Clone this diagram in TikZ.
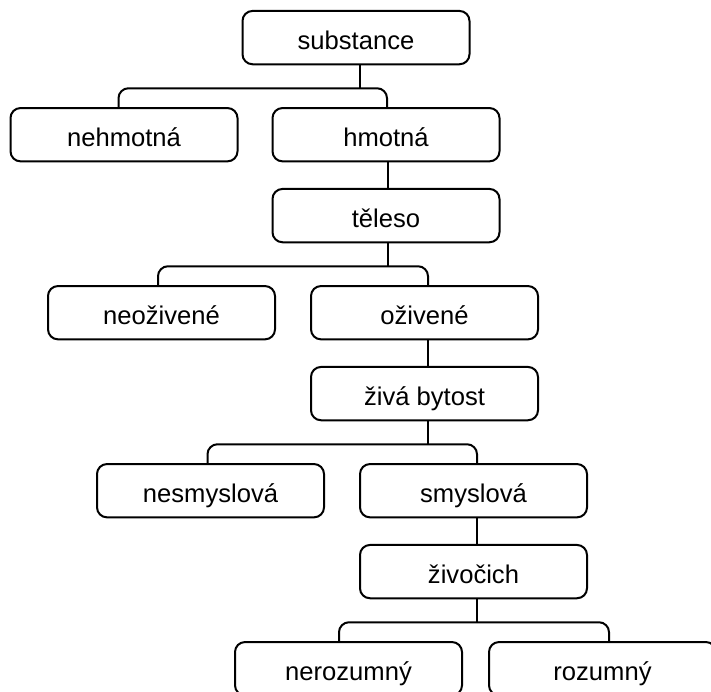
\documentclass[tikz,border=0pt]{standalone}
\usepackage{fontspec}
\setmainfont{Liberation Sans}
\usetikzlibrary{positioning}

\begin{document}
\begin{tikzpicture}[
concept/.style={draw, rounded corners=5pt, line width=1pt, minimum width=113.5pt, minimum height=26.65pt, inner sep=0pt, outer sep=0pt, text height=14.7pt, text depth=2.6pt, font=\fontsize{12.8}{15}\selectfont},
link/.style={line width=1pt},
fork/.style={line width=1pt, rounded corners=5pt},
node distance=21.9pt and 18pt
]
% frame of the picture
\useasboundingbox (0,0) rectangle (355.5pt,-345.5pt);
\clip (0,0) rectangle (355.5pt,-345.5pt);

%Nodes
\node[concept]   (subst)   at (178pt,-18.8pt)              {substance};
\node[concept]   (hmot)    [below=of subst, xshift=15pt]   {hmotná};
\node[concept]   (nehm)    [left=17.5pt of hmot]           {nehmotná};
\node[concept]   (tele)    [below=13.8pt of hmot]          {těleso};

\node[concept]   (oziv)    [below=of tele, xshift=19.25pt] {oživené};
\node[concept]   (neoz)    [left=of oziv]                  {neoživené};
\node[concept]   (ziva)    [below=13.8pt of oziv]          {živá bytost};

\node[concept]   (smys)    [below=of ziva, xshift=24.5pt]  {smyslová};
\node[concept]   (nesm)    [left=of smys]                  {nesmyslová};
\node[concept]   (zivo)    [below=13.8pt of smys]          {živočich};

\node[concept]   (roz)     [below=of zivo, xshift=64.5pt]  {rozumný};
\node[concept]   (neroz)   [left=13.5pt of roz]            {nerozumný};

%Lines
\draw[link] ([xshift=2pt]subst.south) -- ++(0,-12pt) coordinate (f1);
\draw[fork] ([xshift=-2.75pt]nehm.north) |- (f1) -| ([xshift=0.5pt]hmot.north);
\draw[link] ([xshift=1pt]hmot.south) -- ([xshift=1pt]tele.north);

\draw[link] ([xshift=1pt]tele.south) -- ++(0,-12pt) coordinate (f2);
\draw[fork] ([xshift=-1.75pt]neoz.north) |- (f2) -| ([xshift=1.75pt]oziv.north);
\draw[link] ([xshift=1.75pt]oziv.south) -- ([xshift=1.75pt]ziva.north);

\draw[link] ([xshift=1.75pt]ziva.south) -- ++(0,-12pt) coordinate (f3);
\draw[fork] ([xshift=-1.5pt]nesm.north) |- (f3) -| ([xshift=1.75pt]smys.north);
\draw[link] ([xshift=1.75pt]smys.south) -- ([xshift=1.75pt]zivo.north);

\draw[link] ([xshift=1.75pt]zivo.south) -- ++(0,-12pt) coordinate (f4);
\draw[fork] ([xshift=-4.75pt]neroz.north) |- (f4) -| ([xshift=3.25pt]roz.north);

\end{tikzpicture}
\end{document}
